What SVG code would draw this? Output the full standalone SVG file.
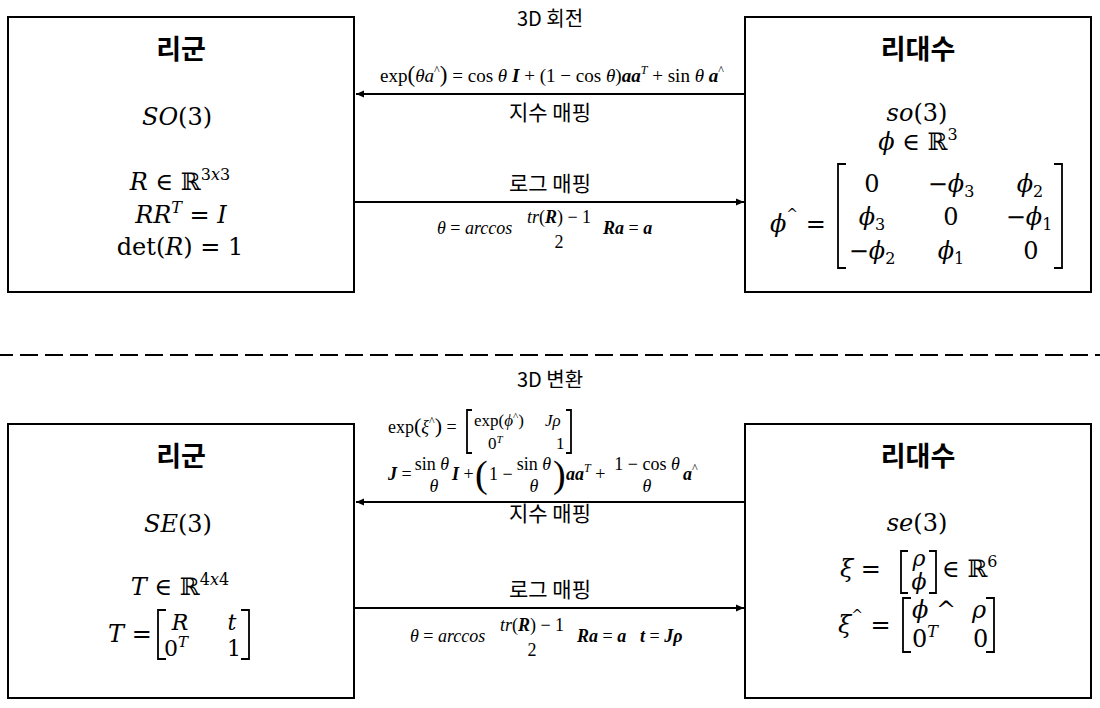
<svg xmlns="http://www.w3.org/2000/svg" width="1100" height="708" viewBox="0 0 1100 708">
<style>
.box{fill:#fff;stroke:#000;stroke-width:2}
.kr{font-family:"Noto Sans CJK KR","Noto Sans",sans-serif;fill:#000}
.title{font-size:27px;font-weight:bold;text-anchor:middle}
.lbl{font-size:21px;text-anchor:middle}
.sec{font-size:20px;text-anchor:middle}
.m{font-family:"DejaVu Serif","Liberation Serif",serif;font-size:24px;fill:#000}
.f{font-family:"Liberation Serif","DejaVu Serif",serif;font-size:18px;fill:#000}
.s{font-size:17px}
.c{text-anchor:middle}
.i{font-style:italic}
.bi{font-style:italic;font-weight:bold}
.edge{stroke:#000;stroke-width:2;fill:none}
.br{stroke:#000;stroke-width:1.8;fill:none}
.dash{stroke:#000;stroke-width:2;stroke-dasharray:18 7;stroke-dashoffset:5}
</style>
<defs>
<marker id="ah" markerUnits="userSpaceOnUse" markerWidth="9" markerHeight="8" refX="8" refY="4" orient="auto">
<path d="M0,0.5 L8,4 L0,7.5 z" fill="#000"/>
</marker>
</defs>
<rect width="1100" height="708" fill="#fff"/>

<!-- section labels and separator -->
<text class="kr sec" x="550" y="26">3D 회전</text>
<line class="dash" x1="0" y1="355" x2="1100" y2="355"/>
<text class="kr sec" x="550" y="387">3D 변환</text>

<!-- SO(3) Lie group -->
<g id="lie-group-so3">
<rect class="box" x="8" y="17" width="346" height="275"/>
<text class="kr title" x="181" y="59">리군</text>
<text class="m c" x="177" y="125"><tspan class="i">SO</tspan>(3)</text>
<text class="m c" x="180" y="190"><tspan class="i">R</tspan> ∈ ℝ<tspan font-size="16" dy="-10">3<tspan class="i">x</tspan>3</tspan></text>
<text class="m c" x="181" y="223"><tspan class="i">RR</tspan><tspan class="i" font-size="16" dy="-10">T</tspan><tspan dy="10"> = </tspan><tspan class="i">I</tspan></text>
<text class="m c" x="180" y="255">det(<tspan class="i">R</tspan>) = 1</text>
</g>

<!-- so(3) Lie algebra -->
<g id="lie-algebra-so3">
<rect class="box" x="745" y="17" width="346" height="275"/>
<text class="kr title" x="918" y="59">리대수</text>
<text class="m c" x="917" y="121"><tspan class="i">so</tspan>(3)</text>
<text class="m c" x="918" y="150"><tspan class="i">ϕ</tspan> ∈ ℝ<tspan font-size="16" dy="-10">3</tspan></text>
<text class="m" x="770" y="232"><tspan class="i">ϕ</tspan><tspan font-size="14" dy="-13">^</tspan><tspan dy="13"> =</tspan></text>
<path class="br" d="M846,164 H838 V268 H846 M1054,164 H1062 V268 H1054"/>
<text class="m c" x="872" y="192">0</text>
<text class="m c" x="951" y="192">−<tspan class="i">ϕ</tspan><tspan font-size="16" dy="5">3</tspan></text>
<text class="m c" x="1030" y="192"><tspan class="i">ϕ</tspan><tspan font-size="16" dy="5">2</tspan></text>
<text class="m c" x="872" y="225"><tspan class="i">ϕ</tspan><tspan font-size="16" dy="5">3</tspan></text>
<text class="m c" x="951" y="225">0</text>
<text class="m c" x="1029" y="225">−<tspan class="i">ϕ</tspan><tspan font-size="16" dy="5">1</tspan></text>
<text class="m c" x="872" y="259">−<tspan class="i">ϕ</tspan><tspan font-size="16" dy="5">2</tspan></text>
<text class="m c" x="951" y="259"><tspan class="i">ϕ</tspan><tspan font-size="16" dy="5">1</tspan></text>
<text class="m c" x="1031" y="259">0</text>
</g>

<!-- SE(3) Lie group -->
<g id="lie-group-se3">
<rect class="box" x="8" y="424" width="346" height="274"/>
<text class="kr title" x="181" y="466">리군</text>
<text class="m c" x="178" y="532"><tspan class="i">SE</tspan>(3)</text>
<text class="m c" x="180" y="595"><tspan class="i">T</tspan> ∈ ℝ<tspan font-size="16" dy="-10">4<tspan class="i">x</tspan>4</tspan></text>
<text class="m" x="108" y="642"><tspan class="i">T</tspan> =</text>
<path class="br" d="M166,610 H158 V659 H166 M241,610 H249 V659 H241"/>
<text class="m c i" x="180" y="630" style="font-size:22px">R</text>
<text class="m c i" x="232" y="630" style="font-size:22px">t</text>
<text class="m" x="164" y="656" style="font-size:22px">0<tspan class="i" font-size="15" dy="-9">T</tspan></text>
<text class="m c" x="234" y="656" style="font-size:22px">1</text>
</g>

<!-- se(3) Lie algebra -->
<g id="lie-algebra-se3">
<rect class="box" x="745" y="424" width="346" height="274"/>
<text class="kr title" x="918" y="466">리대수</text>
<text class="m c" x="917" y="531"><tspan class="i">se</tspan>(3)</text>
<text class="m" x="840" y="577"><tspan class="i">ξ</tspan> =</text>
<path class="br" d="M908,551 H901 V593 H908 M929,551 H936 V593 H929"/>
<text class="m c i" x="919" y="566" style="font-size:22px">ρ</text>
<text class="m c i" x="919" y="589" style="font-size:22px">ϕ</text>
<text class="m" x="942" y="577">∈ ℝ<tspan font-size="16" dy="-10">6</tspan></text>
<text class="m" x="838" y="633"><tspan class="i">ξ</tspan><tspan font-size="14" dy="-13">^</tspan><tspan dy="13"> =</tspan></text>
<path class="br" d="M911,598 H903 V652 H911 M986,598 H994 V652 H986"/>
<text class="m" x="912" y="618"><tspan class="i">ϕ</tspan> ^</text>
<text class="m i" x="972" y="618">ρ</text>
<text class="m" x="912" y="647">0<tspan class="i" font-size="16" dy="-10">T</tspan></text>
<text class="m" x="973" y="647">0</text>
</g>

<!-- connectors -->
<g id="connectors">
<line class="edge" x1="745" y1="94" x2="356" y2="94" marker-end="url(#ah)"/>
<line class="edge" x1="354" y1="202" x2="744" y2="202" marker-end="url(#ah)"/>
<line class="edge" x1="745" y1="502" x2="356" y2="502" marker-end="url(#ah)"/>
<line class="edge" x1="354" y1="608" x2="744" y2="608" marker-end="url(#ah)"/>
</g>

<!-- connector labels: rotation -->
<g id="label-exp-so3">
<text class="f" x="380" y="82" style="font-size:19px" textLength="344" lengthAdjust="spacingAndGlyphs">exp<tspan font-size="23">(</tspan><tspan class="i">θa</tspan><tspan font-size="12" dy="-8">^</tspan><tspan font-size="23" dy="8">)</tspan> = cos <tspan class="i">θ</tspan> <tspan class="bi">I</tspan> + (1  − cos <tspan class="i">θ</tspan>)<tspan class="bi">aa</tspan><tspan class="i" font-size="12" dy="-8">T</tspan><tspan dy="8"> + sin </tspan><tspan class="i">θ</tspan> <tspan class="bi">a</tspan><tspan font-size="12" dy="-8">^</tspan></text>
<text class="kr lbl" x="550" y="120">지수 매핑</text>
</g>
<g id="label-log-so3">
<text class="kr lbl" x="550" y="191">로그 매핑</text>
<text class="f" x="437" y="234"><tspan class="i">θ</tspan> = <tspan class="i">arccos</tspan></text>
<text class="f c" x="559" y="223"><tspan class="i">tr</tspan>(<tspan class="bi">R</tspan>) − 1</text>
<text class="f c" x="559" y="248">2</text>
<text class="f" x="603" y="234"><tspan class="bi">Ra</tspan> = <tspan class="bi">a</tspan></text>
</g>

<!-- connector labels: transformation -->
<g id="label-exp-se3">
<text class="f" x="388" y="433">exp<tspan font-size="22">(</tspan><tspan class="i">ξ</tspan><tspan font-size="12" dy="-8">^</tspan><tspan font-size="22" dy="8">)</tspan> =</text>
<path class="br" d="M472,410 H467 V453 H472 M566,410 H571 V453 H566" stroke-width="1.3"/>
<text class="f s" x="474" y="426">exp(<tspan class="i">ϕ</tspan><tspan font-size="11" dy="-6">^</tspan><tspan dy="6">)</tspan></text>
<text class="f s i" x="545" y="426">Jρ</text>
<text class="f s" x="488" y="449">0<tspan class="i" font-size="11" dy="-6">T</tspan></text>
<text class="f s" x="556" y="449">1</text>
<text class="f" x="388" y="480"><tspan class="bi">J</tspan> =</text>
<text class="f c" x="432" y="470">sin <tspan class="i">θ</tspan></text>
<text class="f c i" x="434" y="492">θ</text>
<text class="f" x="452" y="480"><tspan class="bi">I</tspan> +</text>
<text class="f" x="475" y="487" style="font-size:38px">(</text>
<text class="f" x="489" y="480">1 −</text>
<text class="f c" x="534" y="470">sin <tspan class="i">θ</tspan></text>
<text class="f c i" x="534" y="492">θ</text>
<text class="f" x="553" y="487" style="font-size:38px">)</text>
<text class="f" x="566" y="480"><tspan class="bi">aa</tspan><tspan class="i" font-size="12" dy="-8">T</tspan><tspan dy="8"> +</tspan></text>
<text class="f c" x="647" y="470">1 − cos <tspan class="i">θ</tspan></text>
<text class="f c i" x="647" y="492">θ</text>
<text class="f" x="683" y="480"><tspan class="bi">a</tspan><tspan font-size="12" dy="-8">^</tspan></text>
<text class="kr lbl" x="550" y="521">지수 매핑</text>
</g>
<g id="label-log-se3">
<text class="kr lbl" x="550" y="597">로그 매핑</text>
<text class="f" x="410" y="642"><tspan class="i">θ</tspan> = <tspan class="i">arccos</tspan></text>
<text class="f c" x="532" y="631"><tspan class="i">tr</tspan>(<tspan class="bi">R</tspan>) − 1</text>
<text class="f c" x="532" y="656">2</text>
<text class="f" x="577" y="642"><tspan class="bi">Ra</tspan> = <tspan class="bi">a</tspan></text>
<text class="f" x="640" y="642"><tspan class="bi">t</tspan> = <tspan class="bi">Jρ</tspan></text>
</g>
</svg>
